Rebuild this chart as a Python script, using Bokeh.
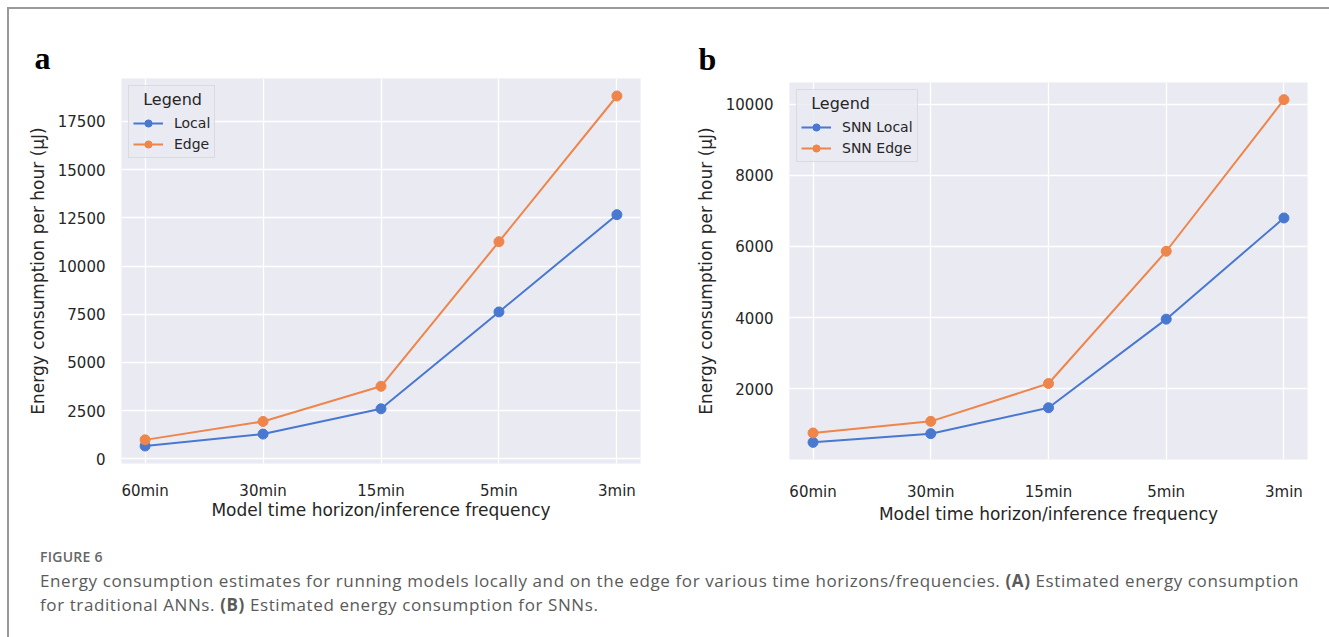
from bokeh.plotting import figure
from bokeh.models import (ColumnDataSource, Legend, LegendItem, FixedTicker,
                          Div, InlineStyleSheet, Range1d, Title)
from bokeh.layouts import row, column
from bokeh.embed import file_html
from bokeh.resources import INLINE

# ---------------- data ----------------
categories = ["60min", "30min", "15min", "5min", "3min"]
ann_local = [672, 1290, 2600, 7620, 12660]
ann_edge = [990, 1944, 3765, 11260, 18810]
snn_local = [491, 736, 1464, 3955, 6800]
snn_edge = [755, 1082, 2145, 5864, 10127]
ticks_a = [0, 2500, 5000, 7500, 10000, 12500, 15000, 17500]
ticks_b = [2000, 4000, 6000, 8000, 10000]
names_a = ["Local", "Edge"]
names_b = ["SNN Local", "SNN Edge"]
x_title = "Model time horizon/inference frequency"
y_title = "Energy consumption per hour (\u03bcJ)"

BLUE = "#4878d0"
ORANGE = "#ee854a"
BG = "#eaeaf2"
TXT = "#262626"
FONT = "DejaVu Sans"


def make_panel(series, names, ticks, letter, fw, fh, bl, br, bt, bb,
               letter_offset, letter_standoff, xlab_standoff, xtitle_standoff):
    xs = list(range(len(categories)))
    allv = [v for s in series for v in s]
    lo, hi = min(allv), max(allv)
    pad = 0.05 * (hi - lo)
    p = figure(frame_width=fw, frame_height=fh, min_border_left=bl, min_border_right=br,
               min_border_top=bt, min_border_bottom=bb, output_backend="svg",
               toolbar_location=None, tools="",
               x_range=Range1d(-0.2, len(categories) - 0.8),
               y_range=Range1d(lo - pad, hi + pad))
    p.title = Title(text=letter, align="left", offset=letter_offset, standoff=letter_standoff,
                    text_font="Liberation Serif", text_font_style="bold",
                    text_font_size="32px", text_color="black")
    p.background_fill_color = BG
    p.border_fill_color = "white"
    p.outline_line_color = None
    for g in (p.xgrid, p.ygrid):
        g.grid_line_color = "white"
        g.grid_line_width = 1.3
    p.xaxis.ticker = FixedTicker(ticks=xs)
    p.xaxis.major_label_overrides = {i: c for i, c in enumerate(categories)}
    p.yaxis.ticker = FixedTicker(ticks=ticks)
    for ax in (p.xaxis[0], p.yaxis[0]):
        ax.axis_line_color = None
        ax.major_tick_line_color = None
        ax.minor_tick_line_color = None
        ax.major_tick_out = 0
        ax.major_tick_in = 0
        ax.minor_tick_out = 0
        ax.major_label_text_font = FONT
        ax.major_label_text_font_size = "15px"
        ax.major_label_text_color = TXT
        ax.axis_label_text_font = FONT
        ax.axis_label_text_font_size = "17px"
        ax.axis_label_text_font_style = "normal"
        ax.axis_label_text_color = TXT
    p.xaxis.major_label_standoff = xlab_standoff
    p.xaxis.axis_label_standoff = xtitle_standoff
    p.yaxis.major_label_standoff = 16
    p.yaxis.axis_label_standoff = 7
    p.xaxis.axis_label = x_title
    p.yaxis.axis_label = y_title

    items = []
    for vals, name, col in zip(series, names, [BLUE, ORANGE]):
        src = ColumnDataSource(dict(x=xs, y=vals))
        r1 = p.line("x", "y", source=src, line_color=col, line_width=2)
        r2 = p.scatter("x", "y", source=src, size=10, fill_color=col, line_color=col)
        items.append(LegendItem(label=name, renderers=[r1, r2]))
    leg = Legend(items=items, location="top_left", margin=7, padding=4, spacing=3,
                 glyph_width=30, glyph_height=18, label_height=18, label_standoff=11,
                 title="\u00a0\u00a0Legend", title_standoff=5,
                 title_text_font=FONT, title_text_font_size="16px", title_text_color=TXT,
                 title_text_font_style="normal",
                 label_text_font=FONT, label_text_font_size="14px", label_text_color=TXT,
                 background_fill_color=BG, background_fill_alpha=0.8,
                 border_line_color="#cccccc", border_line_width=1)
    p.add_layout(leg)
    return p


pa = make_panel([ann_local, ann_edge], names_a, ticks_a, "a",
                fw=519, fh=385, bl=121, br=25, bt=78, bb=67,
                letter_offset=-87, letter_standoff=6, xlab_standoff=18, xtitle_standoff=-3)
pb = make_panel([snn_local, snn_edge], names_b, ticks_b, "b",
                fw=518, fh=377, bl=124, br=22, bt=82, bb=71,
                letter_offset=-91, letter_standoff=12, xlab_standoff=23, xtitle_standoff=0)

caption_html = """
<div style="position:relative;width:1329px;height:107px;font-family:'Open Sans',sans-serif;">
<div style="position:absolute;left:40px;top:19px;font-size:14px;line-height:16px;font-weight:600;color:#666666;letter-spacing:0.25px;white-space:nowrap;">FIGURE 6</div>
<div style="position:absolute;left:40px;top:39px;font-size:17px;line-height:24px;color:#5a5a5a;letter-spacing:0.6px;white-space:nowrap;">Energy consumption estimates for running models locally and on the edge for various time horizons/frequencies. <b>(A)</b> Estimated energy consumption<br>for traditional ANNs. <b>(B)</b> Estimated energy consumption for SNNs.</div>
</div>
"""
cap = Div(text=caption_html, width=1329, height=107, margin=0)

frame_css = InlineStyleSheet(css="""
:host { position: relative; }
:host::before { content: ''; position: absolute; left: 7px; top: 7px; right: -20px; bottom: -20px;
  border: 2px solid #9a9a9a; pointer-events: none; z-index: 10; }
""")
layout = column(row(column(pa), column(pb), spacing=0), cap, spacing=0, stylesheets=[frame_css])

open("out.html", "w").write(file_html(layout, INLINE))
